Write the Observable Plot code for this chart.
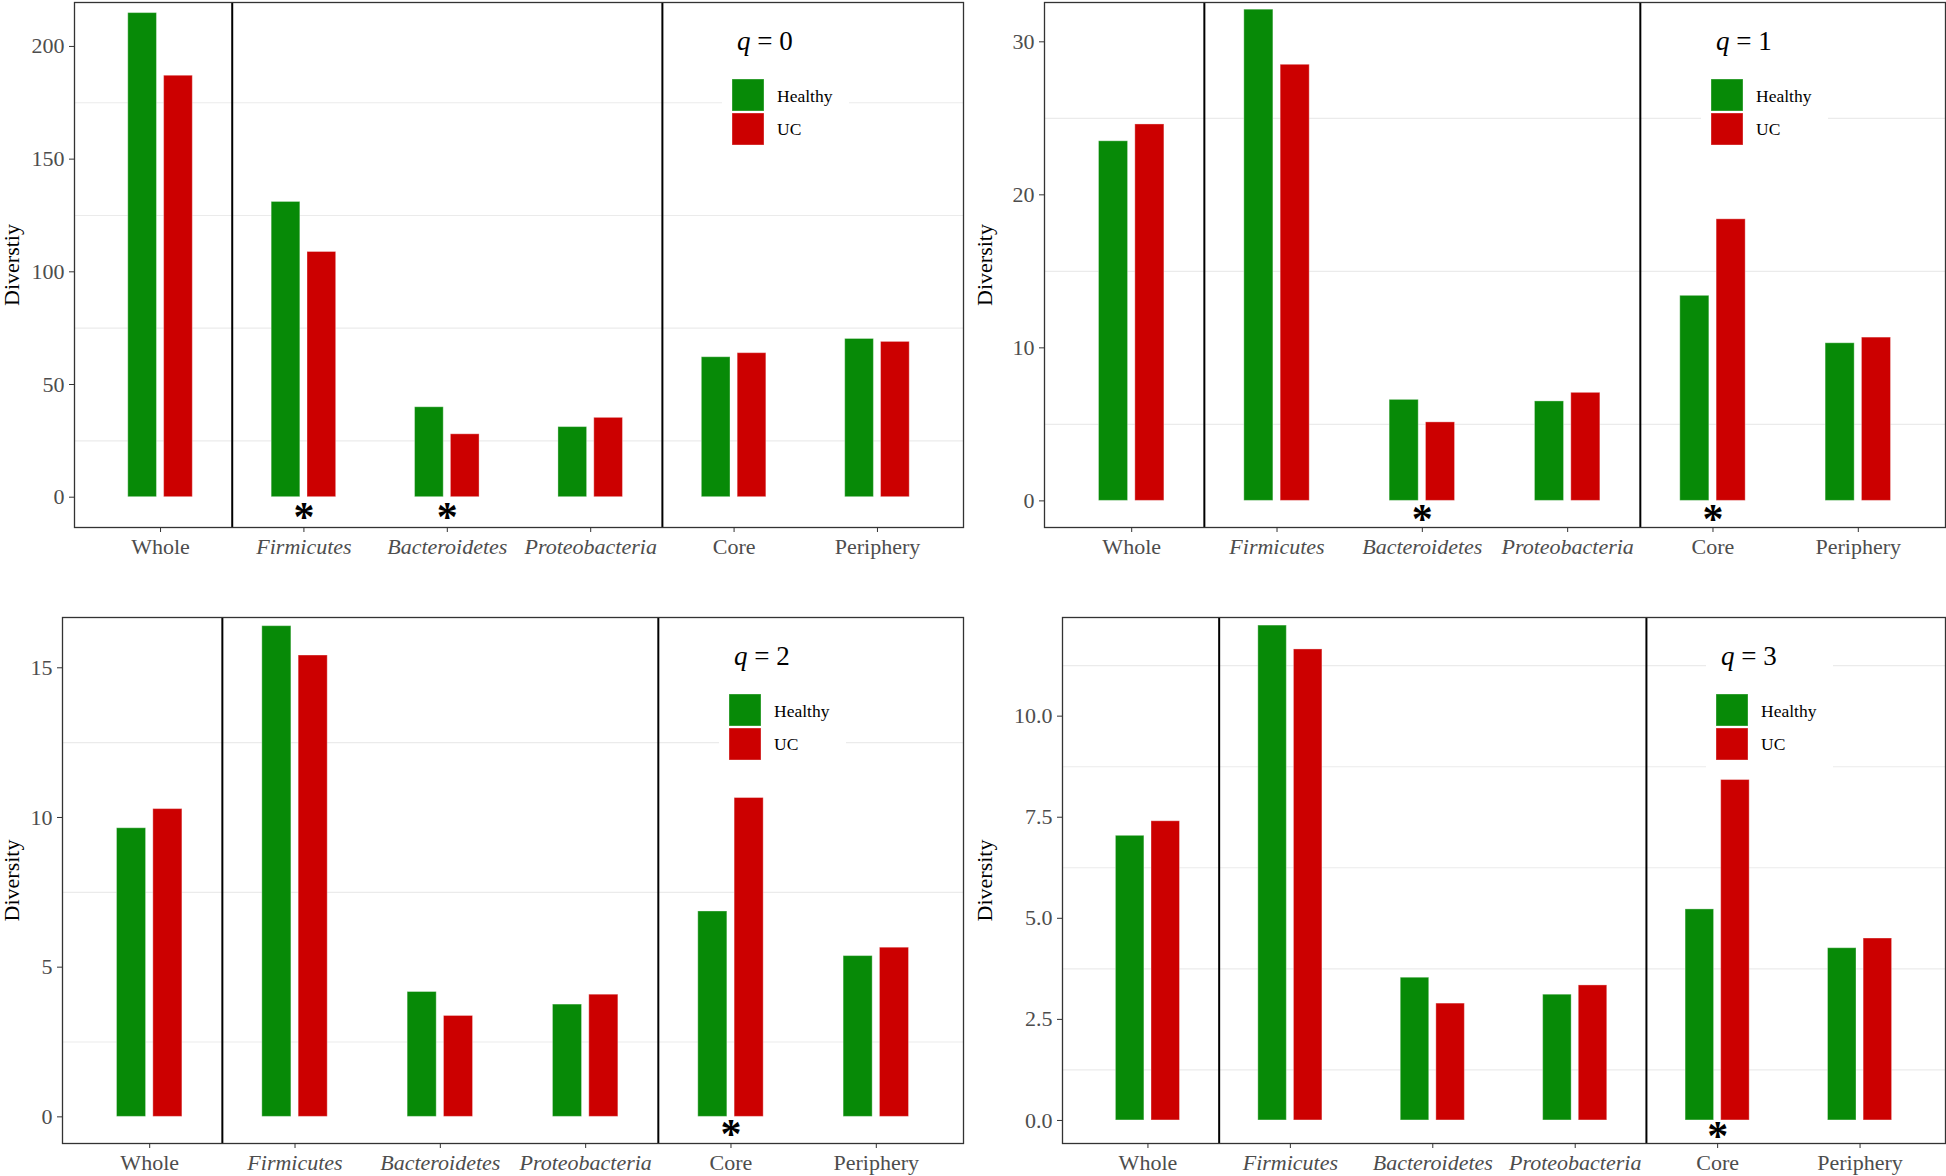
<!DOCTYPE html>
<html>
<head>
<meta charset="utf-8">
<script src="https://cdn.jsdelivr.net/npm/d3@7"></script>
<script src="https://cdn.jsdelivr.net/npm/@observablehq/plot@0.6"></script>
<style>
  html, body { margin: 0; padding: 0; background: #fff; }
  #root { position: relative; width: 1946px; height: 1176px; overflow: hidden;
          font-family: "Liberation Serif", "Times New Roman", serif; }
  .panel { position: absolute; }
  .legend { position: absolute; }
</style>
</head>
<body>
<div id="root"></div>
<script>
// ---------------- data ----------------
const categories = ["Whole", "Firmicutes", "Bacteroidetes", "Proteobacteria", "Core", "Periphery"];
const italicCategories = ["Firmicutes", "Bacteroidetes", "Proteobacteria"];
const categoryGroup = ["All", "Phylum", "Phylum", "Phylum", "Network", "Network"];
const groups = ["Healthy", "UC"];
const groupColors = ["#078A07", "#CC0000"];

const qOrders = [0, 1, 2, 3];
const yTitles = ["Diverstiy", "Diversity", "Diversity", "Diversity"];

const q0Healthy = [214.8, 131.0, 39.9, 31.1, 62.1, 70.2];
const q0UC      = [187.0, 108.8, 27.9, 35.2, 63.9, 68.9];
const q1Healthy = [23.5, 32.1, 6.6, 6.5, 13.4, 10.3];
const q1UC      = [24.6, 28.5, 5.13, 7.06, 18.4, 10.67];
const q2Healthy = [9.64, 16.39, 4.17, 3.75, 6.86, 5.37];
const q2UC      = [10.28, 15.41, 3.37, 4.08, 10.65, 5.65];
const q3Healthy = [7.04, 12.24, 3.53, 3.11, 5.22, 4.26];
const q3UC      = [7.40, 11.65, 2.89, 3.34, 8.42, 4.50];

const q0Significant = ["Firmicutes", "Bacteroidetes"];
const q1Significant = ["Bacteroidetes", "Core"];
const q2Significant = ["Core"];
const q3Significant = ["Core"];

const q0Ticks = [0, 50, 100, 150, 200];
const q1Ticks = [0, 10, 20, 30];
const q2Ticks = [0, 5, 10, 15];
const q3Ticks = [0, 2.5, 5, 7.5, 10];
const q3TickFormat = ".1f";

// ---------------- layout ----------------
const panels = [
  {q: qOrders[0], healthy: q0Healthy, uc: q0UC, sig: q0Significant, ticks: q0Ticks, fmt: null, title: yTitles[0],
   left: 0, top: 0, width: 973, height: 585, mL: 74, mR: 10, mT: 2, mB: 58, yDomain: [-13.45, 219.5], starDy: 34},
  {q: qOrders[1], healthy: q1Healthy, uc: q1UC, sig: q1Significant, ticks: q1Ticks, fmt: null, title: yTitles[1],
   left: 973, top: 0, width: 973, height: 585, mL: 71, mR: 1, mT: 2, mB: 58, yDomain: [-1.74, 32.57], starDy: 32},
  {q: qOrders[2], healthy: q2Healthy, uc: q2UC, sig: q2Significant, ticks: q2Ticks, fmt: null, title: yTitles[2],
   left: 0, top: 590, width: 973, height: 586, mL: 62, mR: 10, mT: 27, mB: 33, yDomain: [-0.89, 16.68], starDy: 31.5},
  {q: qOrders[3], healthy: q3Healthy, uc: q3UC, sig: q3Significant, ticks: q3Ticks, fmt: q3TickFormat, title: yTitles[3],
   left: 973, top: 590, width: 973, height: 586, mL: 89, mR: 1, mT: 27, mB: 33, yDomain: [-0.57, 12.44], starDy: 30}
];

const FONT = "Liberation Serif, Times New Roman, serif";
const root = document.getElementById("root");
const idx = c => categories.indexOf(c);
const barW = 0.2, dodge = 0.25;
const off = g => (groups.indexOf(g) - (groups.length - 1) / 2) * dodge;

function minorTicks(t, domain) {
  const step = t[1] - t[0];
  const ext = [t[0] - step, ...t, t[t.length - 1] + step];
  const m = [];
  for (let i = 1; i < ext.length; i++) m.push((ext[i - 1] + ext[i]) / 2);
  return m.filter(v => v > domain[0] && v < domain[1]);
}

const boundaries = [];
for (let i = 1; i < categories.length; i++) if (categoryGroup[i] !== categoryGroup[i - 1]) boundaries.push(i - 0.5);

for (const p of panels) {
  const rows = [];
  categories.forEach((c, i) => {
    rows.push({category: c, group: groups[0], value: p.healthy[i]});
    rows.push({category: c, group: groups[1], value: p.uc[i]});
  });
  const normalIdx = categories.map((c, i) => i).filter(i => !italicCategories.includes(categories[i]));
  const italicIdx = categories.map((c, i) => i).filter(i => italicCategories.includes(categories[i]));
  const fmt = p.fmt ? d3.format(p.fmt) : d3.format("");

  const chart = Plot.plot({
    width: p.width, height: p.height,
    marginLeft: p.mL, marginRight: p.mR, marginTop: p.mT, marginBottom: p.mB,
    x: {type: "linear", domain: [-0.6, categories.length - 0.4]},
    y: {domain: p.yDomain},
    color: {domain: groups, range: groupColors},
    style: {fontFamily: FONT, fontSize: "22px", color: "#4D4D4D", background: "transparent", overflow: "visible"},
    marks: [
      Plot.gridY(minorTicks(p.ticks, p.yDomain), {stroke: "#EBEBEB", strokeOpacity: 1, strokeWidth: 1.1}),
      Plot.rect(rows, {
        x1: d => idx(d.category) + off(d.group) - barW / 2,
        x2: d => idx(d.category) + off(d.group) + barW / 2,
        y1: 0, y2: "value", fill: "group",
        stroke: "#ffffff", strokeOpacity: 0.35, strokeWidth: 1
      }),
      Plot.text(p.sig, {x: d => idx(d), y: 0, text: () => "*", fontSize: 42, fontWeight: "bold",
        fill: "#000", lineAnchor: "bottom", dy: p.starDy, fontFamily: FONT}),
      Plot.ruleX(boundaries, {stroke: "#000", strokeWidth: 2}),
      Plot.frame({stroke: "#333", strokeWidth: 1.3}),
      Plot.axisY(p.ticks, {tickSize: 5, tickPadding: 5, tickFormat: fmt, stroke: "#333", fill: "#4D4D4D",
        fontSize: 22, label: null}),
      Plot.axisX(normalIdx, {tickSize: 5, tickPadding: 6, tickFormat: i => categories[i], stroke: "#333",
        fill: "#4D4D4D", fontSize: 22, label: null}),
      Plot.axisX(italicIdx, {tickSize: 5, tickPadding: 6, tickFormat: i => categories[i], stroke: "#333",
        fill: "#4D4D4D", fontSize: 22, fontStyle: "italic", label: null}),
      Plot.text([p.title], {frameAnchor: "left", textAnchor: "middle", lineAnchor: "middle", rotate: -90,
        dx: -(p.mL - 11.5), fontSize: 22, fill: "#000", fontFamily: FONT})
    ]
  });

  const wrap = document.createElement("div");
  wrap.className = "panel";
  wrap.style.left = p.left + "px";
  wrap.style.top = p.top + "px";
  wrap.appendChild(chart);
  root.appendChild(wrap);

  // legend (inside the panel, anchored at the "Core" category)
  const coreX = chart.scale("x").apply(idx("Core"));
  const F = p.mT;
  const lw = 127, lh = 137;
  const leg = d3.create("svg")
    .attr("class", "legend")
    .attr("width", lw).attr("height", lh)
    .style("left", (p.left + coreX - 11.5) + "px")
    .style("top", (p.top + F + 18) + "px")
    .style("font-family", FONT);
  leg.append("rect").attr("width", lw).attr("height", lh).attr("fill", "#fff");
  const t = leg.append("text").attr("x", 15).attr("y", 30).attr("font-size", 27).attr("fill", "#000");
  t.append("tspan").attr("font-style", "italic").text("q");
  t.append("tspan").text(" = " + p.q);
  groups.forEach((g, i) => {
    leg.append("rect").attr("x", 10).attr("y", 59 + i * 34).attr("width", 32).attr("height", 32)
      .attr("fill", groupColors[i]).attr("stroke", "#fff").attr("stroke-opacity", 0.35);
    leg.append("text").attr("x", 55).attr("y", 82 + i * 33).attr("font-size", 17.5)
      .attr("fill", "#000").text(g);
  });
  root.appendChild(leg.node());
}
</script>
</body>
</html>
